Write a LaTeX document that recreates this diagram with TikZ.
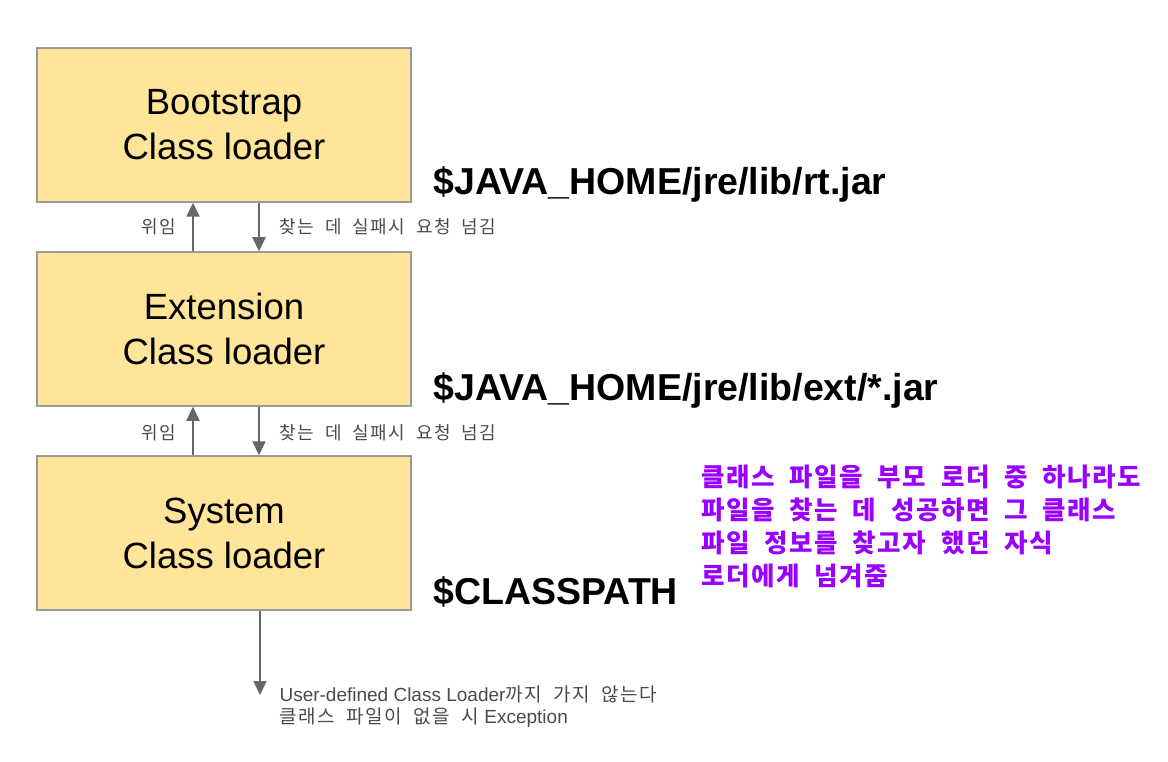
\documentclass[tikz,border=0pt]{standalone}
\usepackage{fontspec}
\setmainfont{Liberation Sans}
\newfontfamily\kr[LetterSpace=8,WordSpace=2]{Noto Sans CJK KR}
\newfontfamily\krnote[LetterSpace=6,WordSpace=2]{Noto Sans CJK KR}
\usetikzlibrary{shapes,arrows.meta,positioning}
\definecolor{boxfill}{HTML}{FFE599}
\definecolor{boxline}{HTML}{9A9A9A}
\definecolor{arrowgray}{HTML}{666666}
\definecolor{hintgray}{HTML}{4A4A4A}
\definecolor{notepurple}{HTML}{9900FF}

\begin{document}
\begin{tikzpicture}[x=1pt,y=-1pt,
    loader/.style={draw=boxline,line width=1.5pt,fill=boxfill,minimum width=374pt,minimum height=154pt,align=center,font=\fontsize{36.5}{45}\selectfont},
    jarpath/.style={anchor=base west,font=\fontsize{37.5}{40}\selectfont\bfseries},
    hint/.style={text=hintgray,font=\fontsize{18}{23}\selectfont},
    flow/.style={draw=arrowgray,line width=2pt,-{Triangle[length=14pt,width=13pt]}},
    note/.style={anchor=north west,align=left,text=notepurple,font=\fontsize{25.5}{33}\selectfont\krnote\bfseries}]
        \useasboundingbox (0,0) rectangle (1168,762);
        \node[loader] (boot) at (224,125) {Bootstrap\\Class loader};
        \node[loader] (ext) at (224,329) {Extension\\Class loader};
        \node[loader] (sys) at (224,533) {System\\Class loader};
        \node[jarpath] (bootjar) at (430,195) {\$JAVA\_HOME/jre/lib/rt.jar};
        \node[jarpath] (extjar) at (430,400) {\$JAVA\_HOME/jre/lib/ext/*.jar};
        \node[jarpath] (syspath) at (430,604) {\$CLASSPATH};
        \draw[flow] ([xshift=-31pt]ext.north) -- ([xshift=-31pt]boot.south);
        \draw[flow] ([xshift=35pt]boot.south) -- ([xshift=35pt]ext.north);
        \draw[flow] ([xshift=-31pt]sys.north) -- ([xshift=-31pt]ext.south);
        \draw[flow] ([xshift=35pt]ext.south) -- ([xshift=35pt]sys.north);
        \node[hint,anchor=east] (deleg1) at (180,227) {\kr 위임};
        \node[hint,anchor=west] (pass1) at (276,227) {\kr 찾는 데 실패시 요청 넘김};
        \node[hint,anchor=east] (deleg2) at (180,433) {\kr 위임};
        \node[hint,anchor=west] (pass2) at (276,433) {\kr 찾는 데 실패시 요청 넘김};
        \coordinate (userend) at (260,695);
        \draw[flow] (sys.south -| userend) -- (userend);
        \node[hint,anchor=north west,align=left,font=\fontsize{19}{22}\selectfont] (usernote) at (276,682) {User-defined Class Loader{\kr 까지 가지 않는다}\\{\kr 클래스 파일이 없을 시} Exception};
        \node[note] (found) at (698,461) {클래스 파일을 부모 로더 중 하나라도\\파일을 찾는 데 성공하면 그 클래스\\파일 정보를 찾고자 했던 자식\\로더에게 넘겨줌};
\end{tikzpicture}
\end{document}
